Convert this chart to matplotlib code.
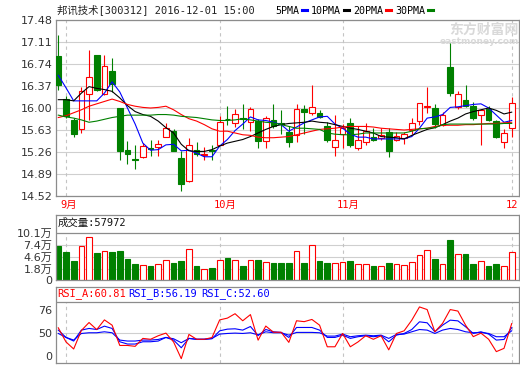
import numpy as np
import matplotlib
matplotlib.use('Agg')
import matplotlib.pyplot as plt
from matplotlib.transforms import ScaledTranslation

# daily candles, 2016-08-31 .. 2016-12-01
opens = [16.88, 16.15, 15.80, 15.65, 16.23, 16.89, 16.23, 16.62, 16.00, 15.29,
         15.14, 15.17, 15.33, 15.34, 15.52, 15.62, 15.16, 14.78, 15.30, 15.21,
         15.29, 15.38, 15.82, 15.74, 15.83, 15.76, 15.78, 15.45, 15.79, 15.75,
         15.60, 15.55, 15.98, 15.91, 15.92, 15.70, 15.35, 15.57, 15.74, 15.32,
         15.42, 15.51, 15.49, 15.59, 15.47, 15.49, 15.63, 15.78, 16.02, 16.00,
         15.72, 16.69, 16.01, 16.14, 16.04, 15.89, 15.99, 15.78, 15.42, 15.66]
highs = [17.22, 16.20, 15.84, 16.35, 16.98, 16.89, 16.89, 16.84, 16.00, 15.44,
         15.37, 15.41, 15.46, 15.46, 15.75, 15.64, 15.27, 15.50, 15.43, 15.35,
         15.38, 15.86, 16.03, 15.99, 16.07, 16.02, 15.82, 15.86, 16.07, 15.96,
         15.70, 16.07, 16.05, 16.39, 15.96, 15.77, 15.88, 15.73, 15.83, 15.70,
         15.75, 15.66, 15.67, 15.66, 15.60, 15.60, 15.83, 16.09, 16.35, 16.06,
         15.93, 17.09, 16.29, 16.39, 16.10, 15.98, 16.04, 15.80, 15.64, 16.18]
lows = [16.31, 15.83, 15.51, 15.58, 15.80, 16.29, 16.22, 16.27, 15.13, 15.06,
        14.97, 15.16, 15.20, 15.20, 15.51, 15.27, 14.61, 14.76, 15.19, 15.13,
        15.12, 15.37, 15.72, 15.68, 15.65, 15.61, 15.32, 15.32, 15.67, 15.57,
        15.35, 15.42, 15.57, 15.88, 15.84, 15.43, 15.19, 15.32, 15.35, 15.30,
        15.38, 15.45, 15.46, 15.18, 15.45, 15.40, 15.57, 15.72, 15.92, 15.66,
        15.69, 16.21, 15.99, 16.01, 15.80, 15.37, 15.78, 15.50, 15.32, 15.52]
closes = [16.38, 15.86, 15.56, 16.29, 16.52, 16.31, 16.70, 16.40, 15.27, 15.23,
          15.13, 15.36, 15.31, 15.39, 15.66, 15.28, 14.73, 15.37, 15.23, 15.22,
          15.27, 15.76, 15.81, 15.90, 15.81, 15.99, 15.44, 15.84, 15.69, 15.73,
          15.43, 15.98, 15.94, 16.02, 15.85, 15.46, 15.46, 15.66, 15.38, 15.47,
          15.62, 15.47, 15.55, 15.27, 15.53, 15.56, 15.75, 16.08, 16.03, 15.73,
          15.88, 16.25, 16.24, 16.03, 15.83, 15.97, 15.80, 15.51, 15.58, 16.08]
# volume in 手
volumes = [71100, 57300, 36500, 71100, 91200, 55000, 59600, 57300, 59600, 41100,
           29500, 27200, 24900, 29500, 38800, 31900, 36500, 64200, 24900, 18000,
           20300, 38800, 43400, 38800, 24900, 38800, 38800, 33400, 31900, 31900,
           31900, 58800, 31900, 72600, 36500, 31900, 31900, 33400, 36500, 29500,
           29500, 24900, 24900, 31900, 29500, 27200, 33400, 50300, 61100, 41100,
           29500, 85000, 52600, 52600, 29500, 36500, 24900, 29500, 24900, 57972]

ma5 = [16.55, 16.34, 16.12, 16.12, 16.12, 16.12, 16.25, 16.44, 16.27, 16.00,
       15.73, 15.41, 15.29, 15.30, 15.38, 15.39, 15.28, 15.29, 15.24, 15.18,
       15.18, 15.36, 15.47, 15.62, 15.73, 15.85, 15.80, 15.79, 15.76, 15.72,
       15.61, 15.68, 15.75, 15.80, 15.85, 15.86, 15.73, 15.66, 15.56, 15.51,
       15.51, 15.48, 15.48, 15.48, 15.48, 15.48, 15.52, 15.66, 15.83, 15.85,
       15.89, 16.01, 16.02, 16.04, 16.06, 16.07, 16.00, 15.88, 15.76, 15.79]
ma10 = [16.14, 16.14, 16.12, 16.25, 16.36, 16.33, 16.31, 16.28, 16.17, 16.04,
        15.94, 15.89, 15.86, 15.78, 15.67, 15.58, 15.39, 15.28, 15.27, 15.27,
        15.30, 15.36, 15.41, 15.44, 15.47, 15.52, 15.58, 15.64, 15.69, 15.72,
        15.74, 15.75, 15.76, 15.78, 15.76, 15.75, 15.72, 15.69, 15.66, 15.64,
        15.61, 15.58, 15.52, 15.51, 15.50, 15.48, 15.54, 15.59, 15.64, 15.67,
        15.72, 15.78, 15.83, 15.90, 15.94, 15.97, 16.00, 15.96, 15.90, 15.93]
ma20 = [15.84, 15.87, 15.92, 15.97, 16.03, 16.07, 16.11, 16.15, 16.11, 16.06,
        16.03, 16.01, 16.00, 16.01, 16.03, 15.97, 15.89, 15.82, 15.78, 15.72,
        15.65, 15.61, 15.61, 15.58, 15.55, 15.54, 15.51, 15.50, 15.50, 15.51,
        15.52, 15.55, 15.58, 15.61, 15.64, 15.65, 15.66, 15.68, 15.69, 15.69,
        15.69, 15.68, 15.66, 15.65, 15.64, 15.63, 15.64, 15.65, 15.66, 15.69,
        15.71, 15.71, 15.71, 15.72, 15.72, 15.73, 15.74, 15.74, 15.75, 15.76]
ma30 = [15.88, 15.85, 15.83, 15.80, 15.76, 15.78, 15.81, 15.84, 15.86, 15.88,
        15.88, 15.88, 15.88, 15.89, 15.89, 15.88, 15.86, 15.85, 15.84, 15.82,
        15.80, 15.79, 15.79, 15.80, 15.82, 15.80, 15.78, 15.76, 15.75, 15.72,
        15.69, 15.66, 15.66, 15.65, 15.64, 15.58, 15.56, 15.55, 15.55, 15.56,
        15.58, 15.58, 15.58, 15.58, 15.58, 15.58, 15.61, 15.65, 15.66, 15.67,
        15.72, 15.73, 15.73, 15.73, 15.73, 15.73, 15.73, 15.73, 15.74, 15.74]

rsi_a = [56, 40, 32, 53, 62, 54, 65, 59, 36, 36,
         35, 44, 43, 47, 50, 40, 21, 48.5, 43, 43,
         45, 65, 67, 72, 64, 71, 42, 58, 51, 51,
         39.5, 64, 63, 65.5, 59, 34.5, 34.5, 49.6, 34.5, 40,
         47, 43, 47, 31, 49.6, 52.6, 64.7, 79.7, 76.7, 51.5,
         61, 76.7, 75, 59, 46, 50, 43, 29, 32.7, 60.81]
rsi_b = [53.4, 45.1, 41, 53.4, 55.3, 54.1, 57.9, 55.3, 40.2, 37.6,
         37.6, 40.2, 40.2, 41, 45.1, 42.1, 33.4, 44, 42.8, 42.8,
         43.6, 52.6, 54.5, 54.9, 53.4, 57.5, 47.2, 54.1, 51.5, 50.8,
         45.1, 56.4, 56.4, 56.4, 53.4, 45.1, 45.1, 47.7, 44, 45.9,
         47, 45.9, 47, 40.2, 47.7, 49.6, 54.1, 62.8, 61.7, 51.5,
         59, 64.7, 63.9, 57.2, 49.6, 51.5, 48.9, 42.1, 42.8, 56.19]
rsi_c = [49.6, 45.1, 42.1, 49.6, 50.4, 50.4, 51.5, 50.4, 42.1, 41,
         41, 42.1, 42.1, 42.8, 45.1, 43.6, 39.1, 44, 43.2, 43.2,
         44, 48.9, 49.6, 50, 49.6, 50.4, 48, 51.5, 50.4, 50.4,
         47.7, 50.8, 50.8, 50.8, 50.4, 46.6, 46.6, 48.9, 45.9, 47,
         47.7, 47, 47.7, 44, 48.5, 48.9, 51.5, 54.1, 53.4, 49.6,
         53.4, 55.3, 54.1, 51.5, 50.4, 50.8, 49.6, 45.9, 45.9, 52.60]

price_ticks = [14.52, 14.89, 15.26, 15.63, 16.00, 16.37, 16.74, 17.11, 17.48]
vol_ticks = [1.8, 4.6, 7.4, 10.1]      # 万
rsi_ticks = [24, 50, 76]
rsi_tick_labels = ['0', '50', '76']
month_pos = [1, 21, 37, 59]
month_labels = ['9月', '10月', '11月', '12']
title = '邦讯技术[300312] 2016-12-01 15:00'
ma_names = ['5PMA', '10PMA', '20PMA', '30PMA']
ma_colors = ['#0000ff', '#000000', '#ff0000', '#008000']

UP = '#ff0000'
DOWN = '#008000'
GRID = '#cfcfcf'
FRAME = '#8c8c8c'
DASH = '#c4c4c4'
TXT = '#333333'
SANS = ['DejaVu Sans', 'Noto Sans CJK SC']
MONO = ['DejaVu Sans Mono', 'Noto Sans CJK SC']
plt.rcParams['font.family'] = SANS

x = np.arange(len(closes))
o = np.array(opens)
c = np.array(closes)
up = c >= o
edge = np.where(up, UP, DOWN)
face = np.where(up, 'white', DOWN)

W, H = 520.0, 365.0
fig = plt.figure(figsize=(W / 100, H / 100), dpi=100)


def box(left, top, right, bottom):
    return [left / W, 1 - bottom / H, (right - left) / W, (bottom - top) / H]


def style(ax):
    for s in ax.spines.values():
        s.set_color(FRAME)
        s.set_linewidth(0.9)
    ax.tick_params(length=0, pad=2.5, labelsize=8, labelcolor=TXT)
    ax.set_xlim(-0.3, 59.95)


ax1 = fig.add_axes(box(56, 20, 519, 196))
ax2 = fig.add_axes(box(56, 215, 519, 280))
ax3 = fig.add_axes(box(56, 287, 519, 363))
for ax in (ax1, ax2, ax3):
    style(ax)

# ---- price panel
ax1.set_ylim(price_ticks[0], price_ticks[-1])
ax1.set_yticks(price_ticks, ['%.2f' % t for t in price_ticks])
ax1.hlines(price_ticks, -1, 61, color=GRID, lw=0.8, zorder=0)
ax1.vlines(month_pos, price_ticks[0], price_ticks[-1], color=DASH, lw=0.8,
           linestyles=(0, (3, 3)), zorder=0)
ax1.text(1.0, 0.945, '东方财富网', transform=ax1.transAxes, ha='right', va='center',
         color='#d9d9d9', size=10, weight='bold', family=['Noto Sans CJK SC'], zorder=0)
ax1.text(1.0, 0.875, 'eastmoney.com', transform=ax1.transAxes, ha='right', va='center',
         color='#d9d9d9', size=6.5, weight='bold', zorder=0)

ax1.vlines(x, lows, highs, colors=edge, lw=0.8, zorder=2)
ax1.bar(x, np.maximum(np.abs(c - o), 0.004), bottom=np.minimum(o, c), width=0.74,
        color=face, edgecolor=edge, lw=0.8, zorder=3)
lines = []
for ma, col in zip([ma5, ma10, ma20, ma30], ma_colors):
    ln, = ax1.plot(x, ma, color=col, lw=0.8, zorder=4)
    lines.append(ln)

ax1.set_xticks(month_pos, month_labels)
ax1.tick_params(axis='x', pad=3, labelcolor='#ff0000', labelsize=7.5)
shift = ScaledTranslation(-0.055, 0, fig.dpi_scale_trans)
for lbl in ax1.get_xticklabels():
    lbl.set_ha('left')
    lbl.set_family(MONO)
    lbl.set_transform(lbl.get_transform() + shift)

fig.text(57 / W, 1 - 10 / H, title, family=MONO, size=7.5, va='center', color='#222222')
leg = fig.legend(lines, ma_names, loc='center left', bbox_to_anchor=(275 / W, 1 - 10.5 / H),
                 ncol=4, frameon=False, markerfirst=False, handlelength=0.5,
                 handletextpad=0.3, columnspacing=0.4, borderpad=0, borderaxespad=0,
                 prop={'family': MONO, 'size': 7.2})
for h in leg.legend_handles:
    h.set_linewidth(2.2)

# ---- volume panel
vol = np.array(volumes) / 1e4
vol_floor = -0.74
ax2.set_ylim(vol_floor, 14.27)
ax2.set_xticks([])
ax2.set_yticks([vol_floor] + vol_ticks, ['0'] + ['%.1f万' % v for v in vol_ticks])
ax2.hlines(vol_ticks[:-1], -1, 61, color=GRID, lw=0.8, zorder=0)
ax2.axhline(vol_ticks[-1], color=FRAME, lw=0.9, zorder=1)
ax2.vlines(month_pos, vol_floor, vol_ticks[-1], color=DASH, lw=0.8,
           linestyles=(0, (3, 3)), zorder=0)
ax2.bar(x, vol - vol_floor, bottom=vol_floor, width=0.74, color=face,
        edgecolor=edge, lw=0.8, zorder=2)
ax2.text(2 / 463, 0.875, '成交量:%d' % volumes[-1], transform=ax2.transAxes,
         va='center', family=MONO, size=7.5, color='#111111')

# ---- RSI panel
ax3.set_ylim(16.1, 102.3)
ax3.set_xticks([])
ax3.set_yticks(rsi_ticks, rsi_tick_labels)
ax3.axhline(50, color=GRID, lw=0.8, zorder=0)
ax3.axhline(85.4, color=FRAME, lw=0.9, zorder=1)
ax3.vlines(month_pos, 16.1, 85.4, color=DASH, lw=0.8, linestyles=(0, (3, 3)), zorder=0)
ax3.plot(x, rsi_c, color='#0000ff', lw=0.8, zorder=2)
ax3.plot(x, rsi_b, color='#0000ff', lw=0.8, zorder=2)
ax3.plot(x, rsi_a, color='#ff0000', lw=0.8, zorder=3)
for xpos, name, val, col in [(1, 'RSI_A', rsi_a[-1], '#ff0000'),
                             (72, 'RSI_B', rsi_b[-1], '#0000ff'),
                             (145, 'RSI_C', rsi_c[-1], '#0000ff')]:
    ax3.text(xpos / 463, 0.908, '%s:%.2f' % (name, val), transform=ax3.transAxes,
             va='center', family=MONO, size=7.5, color=col)

fig.savefig('out.png', dpi=100)
